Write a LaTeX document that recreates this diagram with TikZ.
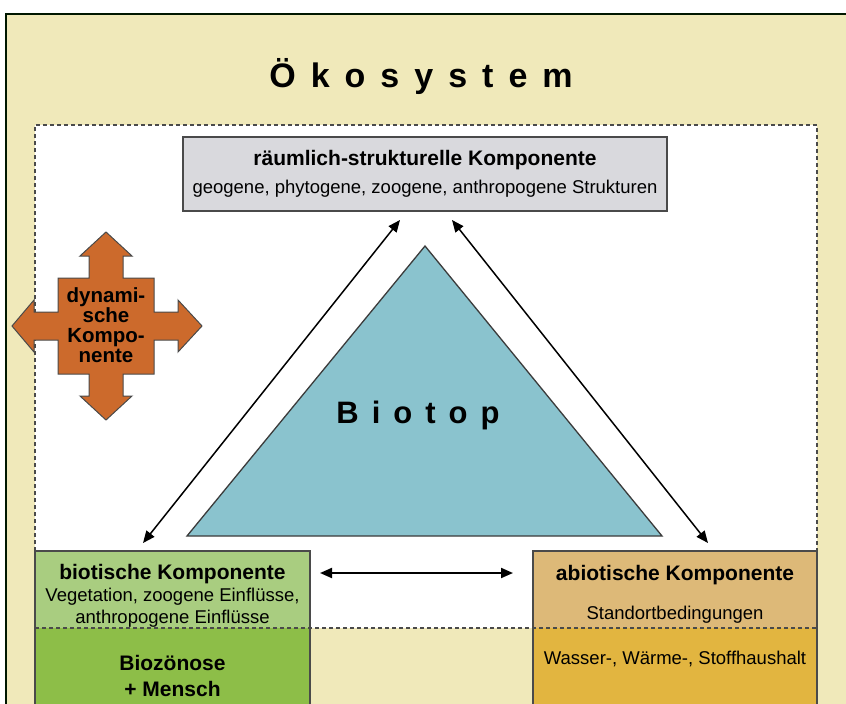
\documentclass[tikz,border=0pt]{standalone}
\usepackage{fontspec}
\setmainfont{Liberation Sans}
\usetikzlibrary{arrows.meta}
\definecolor{beige}{HTML}{F0E9BA}
\definecolor{graybox}{HTML}{D9D9DD}
\definecolor{tri}{HTML}{8AC3CE}
\definecolor{crossor}{HTML}{CC6A2C}
\definecolor{greenA}{HTML}{A9CD80}
\definecolor{greenB}{HTML}{8DBE48}
\definecolor{tanA}{HTML}{DDB978}
\definecolor{tanB}{HTML}{E2B540}
\definecolor{edge}{HTML}{4A4A4A}
\tikzset{
  boxshape/.style={rectangle, draw=edge, line width=1.2pt, outer sep=0pt, inner sep=0pt},
  fillpart/.style={rectangle, outer sep=0pt, inner sep=0pt},
  boxedge/.style={draw=edge, line width=1.2pt, line join=miter},
  btitle/.style={font=\bfseries\fontsize{21}{24}\selectfont, inner sep=0pt, anchor=base},
  btext/.style={font=\fontsize{18.5}{22}\selectfont, inner sep=0pt, anchor=base},
  dbl/.style={line width=1.5pt, {Triangle[length=12pt,width=10pt]}-{Triangle[length=12pt,width=10pt]}},
  dashline/.style={draw=edge, line width=1.2pt, dash pattern=on 4pt off 3pt}
}
\begin{document}
\begin{tikzpicture}[x=1pt,y=-1pt]
\useasboundingbox (0,0) rectangle (846,704);
\clip (0,0) rectangle (846,704);
% background frame
\fill[beige] (6,14) rectangle (846,704);
\draw[line width=2.2pt, black!85!green!60!black] (6,710) -- (6,14) -- (846,14);
% title
\node[font=\bfseries\fontsize{34}{40}\selectfont, inner sep=0pt, anchor=base] (title) at (421,87)
  {Ö\kern15pt k\kern15pt o\kern15pt s\kern15pt y\kern15pt s\kern15pt t\kern15pt e\kern15pt m};
% white dashed area
\fill[white] (35,125) rectangle (817,628);
\draw[dashline] (35,628) -- (35,125) -- (817,125) -- (817,628);
% spatial component box
\node[boxshape, fill=graybox, minimum width=484pt, minimum height=74pt] (raum) at (425,174) {};
\node[btitle] (raumT) at (425,165) {räumlich-strukturelle Komponente};
\node[btext] (raumS) at (425,193) {geogene, phytogene, zoogene, anthropogene Strukturen};
% triangle
\coordinate (tA) at (425,246);
\coordinate (tB) at (662,536);
\coordinate (tC) at (187,536);
\draw[fill=tri, draw=edge!80!black, line width=1.3pt, line join=miter] (tA) -- (tB) -- (tC) -- cycle;
\node[font=\bfseries\fontsize{31}{36}\selectfont, inner sep=0pt, anchor=base] (biotop) at (418,423)
  {B\kern13pt i\kern13pt o\kern13pt t\kern13pt o\kern13pt p};
% dynamic cross
\draw[fill=crossor, draw=edge, line width=1pt, line join=miter]
  (106,232) -- (132,256) -- (123,256) -- (123,278) -- (154,278) -- (154,312) -- (178,312) -- (178,300)
  -- (202,326) -- (178,352) -- (178,340) -- (154,340) -- (154,374) -- (123,374) -- (123,396) -- (132,396)
  -- (106,420) -- (80,396) -- (89,396) -- (89,374) -- (58,374) -- (58,340) -- (34,340) -- (34,352)
  -- (12,326) -- (34,300) -- (34,312) -- (58,312) -- (58,278) -- (89,278) -- (89,256) -- (80,256) -- cycle;
\node[font=\bfseries\fontsize{20.5}{20}\selectfont, align=center, inner sep=0pt] (dyn) at (106,325)
  {dynami-\\sche\\Kompo-\\nente};
% biotic box
\node[fillpart, fill=greenA, minimum width=275pt, minimum height=77pt] (bioU) at (172.5,589.5) {};
\node[fillpart, fill=greenB, minimum width=275pt, minimum height=90pt] (bioL) at (172.5,673) {};
\draw[boxedge] (bioL.south west) -- (bioU.north west) -- (bioU.north east) -- (bioL.south east);
\node[btitle] (bioT) at (172.5,579) {biotische Komponente};
\node[btext] (bioS1) at (172.5,601) {Vegetation, zoogene Einflüsse,};
\node[btext] (bioS2) at (172.5,623) {anthropogene Einflüsse};
\node[btitle] (bioB1) at (172.5,670) {Biozönose};
\node[btitle] (bioB2) at (172.5,696) {+ Mensch};
% abiotic box
\node[fillpart, fill=tanA, minimum width=284pt, minimum height=77pt] (abU) at (675,589.5) {};
\node[fillpart, fill=tanB, minimum width=284pt, minimum height=90pt] (abL) at (675,673) {};
\draw[boxedge] (abL.south west) -- (abU.north west) -- (abU.north east) -- (abL.south east);
\node[btitle] (abT) at (675,580) {abiotische Komponente};
\node[btext] (abS) at (675,619) {Standortbedingungen};
\node[btext] (abW) at (675,664) {Wasser-, Wärme-, Stoffhaushalt};
% beige gap between boxes and dashed divider
\fill[beige] (310.6,628) rectangle (532.4,704);
\draw[dashline] (35,628) -- (817,628);
% arrows
\coordinate (l1) at (400,220);
\coordinate (l2) at (143,543);
\coordinate (r1) at (452,220);
\coordinate (r2) at (708,543);
\coordinate (h1) at (320,573);
\coordinate (h2) at (513,573);
\draw[dbl] (l1) -- (l2);
\draw[dbl] (r1) -- (r2);
\draw[dbl, line width=2pt] (h1) -- (h2);
\end{tikzpicture}
\end{document}
